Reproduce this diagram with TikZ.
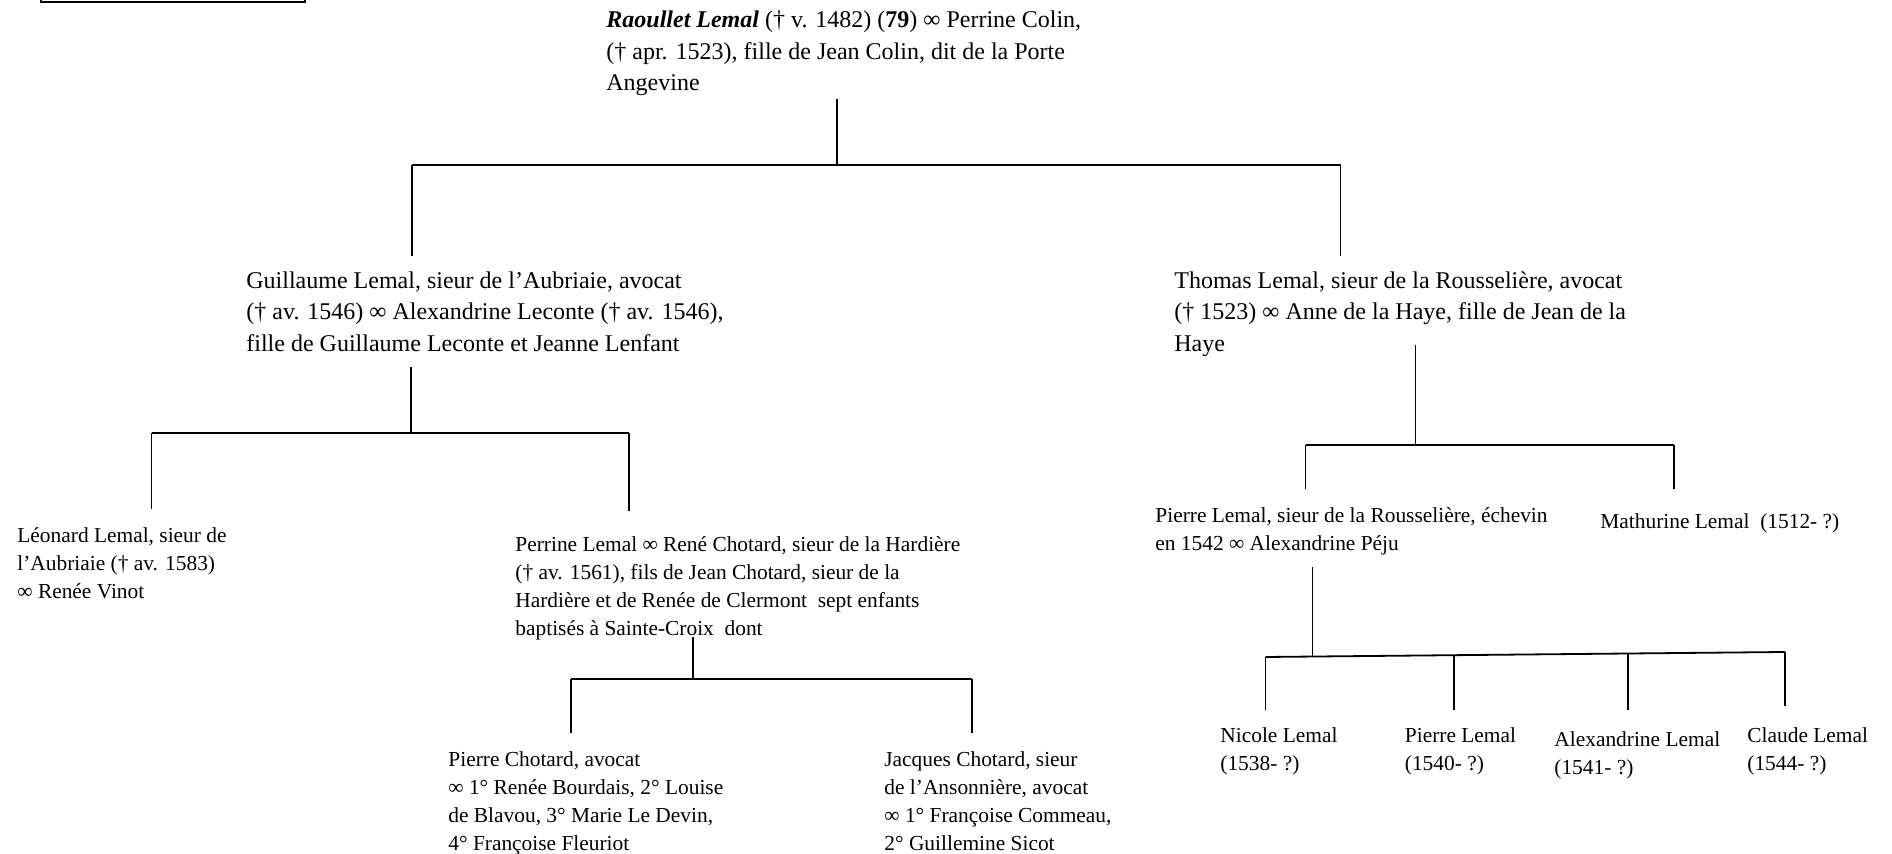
\documentclass[tikz,border=0pt]{standalone}
\usepackage{fontspec}
\setmainfont{Liberation Serif}
\tikzset{
  gen/.style={anchor=north west, inner sep=0pt, align=left, execute at begin node=\strut},
  pers/.style={gen, font=\fontsize{12}{15.75}\selectfont},
  kid/.style={gen, font=\fontsize{10.7}{14}\selectfont},
  ln/.style={line width=0.9pt},
}
\begin{document}
\begin{tikzpicture}[x=0.5pt, y=-0.5pt]
\useasboundingbox (0,0) rectangle (1892,854);
\node[draw, line width=1pt, inner sep=0pt, anchor=south west, minimum width=132pt, minimum height=20pt] (hdr) at (40,3) {};
\node[pers] (root) at (606,10.5) {\textbf{\textit{Raoullet Lemal}} († v. 1482) (\textbf{79}) ∞ Perrine Colin,\\({†} apr. 1523), fille de Jean Colin, dit de la Porte\\Angevine};
\node[pers] (guil) at (246,271) {Guillaume Lemal, sieur de l’Aubriaie, avocat\\({†} av. 1546) ∞ Alexandrine Leconte († av. 1546),\\fille de Guillaume Leconte et Jeanne Lenfant};
\node[pers] (thom) at (1174,271) {Thomas Lemal, sieur de la Rousselière, avocat\\({†} 1523) ∞ Anne de la Haye, fille de Jean de la\\Haye};
\node[kid] (leon) at (17,526.9) {Léonard Lemal, sieur de\\l’Aubriaie († av. 1583)\\∞ Renée Vinot};
\node[kid] (perr) at (515,535.9) {Perrine Lemal ∞ René Chotard, sieur de la Hardière\\({†} av. 1561), fils de Jean Chotard, sieur de la\\Hardière et de Renée de Clermont~ sept enfants\\baptisés à Sainte-Croix~ dont};
\node[kid] (pcho) at (448,750.9) {Pierre Chotard, avocat\\∞ 1° Renée Bourdais, 2° Louise\\de Blavou, 3° Marie Le Devin,\\4° Françoise Fleuriot};
\node[kid] (jcho) at (884,750.9) {Jacques Chotard, sieur\\de l’Ansonnière, avocat\\∞ 1° Françoise Commeau,\\2° Guillemine Sicot};
\node[kid] (plem) at (1155,506.9) {Pierre Lemal, sieur de la Rousselière, échevin\\en 1542 ∞ Alexandrine Péju};
\node[kid] (math) at (1600,508.9) {Mathurine Lemal~ (1512- ?)};
\node[kid] (nic) at (1220,726.9) {Nicole Lemal\\(1538- ?)};
\node[kid] (pie) at (1404.5,726.9) {Pierre Lemal\\(1540- ?)};
\node[kid] (alex) at (1554,730.9) {Alexandrine Lemal\\(1541- ?)};
\node[kid] (clau) at (1747,726.9) {Claude Lemal\\(1544- ?)};
\coordinate (rb) at (837,165);
\coordinate (rl) at (412,165);
\coordinate (rr) at (1340.5,165);
\draw[ln] ([yshift=0.75pt]root.south -| rb) -- (rb);
\draw[ln] (rl) -- (rr);
\draw[ln] (rl) -- ([yshift=7.45pt]rl |- guil.north);
\draw[ln] (rr) -- ([yshift=7.45pt]rr |- thom.north);
\coordinate (gb) at (411,433);
\coordinate (gl) at (151.5,433);
\coordinate (gr) at (629,433);
\draw[ln] ([yshift=-3.25pt]guil.south -| gb) -- (gb);
\draw[ln] (gl) -- (gr);
\draw[ln] (gl) -- ([yshift=8.95pt]gl |- leon.north);
\draw[ln] (gr) -- ([yshift=12.45pt]gr |- perr.north);
\coordinate (pb) at (693,679);
\coordinate (pl) at (571,679);
\coordinate (pr) at (972,679);
\draw[ln] ([yshift=3.25pt]perr.south -| pb) -- (pb);
\draw[ln] (pl) -- (pr);
\draw[ln] (pl) -- ([yshift=8.95pt]pl |- pcho.north);
\draw[ln] (pr) -- ([yshift=8.95pt]pr |- jcho.north);
\coordinate (tb) at (1415.5,445);
\coordinate (tl) at (1305.5,445);
\coordinate (tr) at (1674,445);
\draw[ln] ([yshift=8.1pt]thom.south -| tb) -- (tb);
\draw[ln] (tl) -- (tr);
\draw[ln] (tl) -- ([yshift=8.95pt]tl |- plem.north);
\draw[ln] (tr) -- ([yshift=9.95pt]tr |- math.north);
\coordinate (nb) at (1312.5,656.5);
\coordinate (nl) at (1265.5,657);
\coordinate (n2) at (1454,655.2);
\coordinate (n3) at (1628,653.5);
\coordinate (nr) at (1785,652);
\draw[ln] ([yshift=-3.95pt]plem.south -| nb) -- (nb);
\draw[ln] (nl) -- (nr);
\draw[ln] (nl) -- ([yshift=8.45pt]nl |- nic.north);
\draw[ln] (n2) -- ([yshift=8.45pt]n2 |- pie.north);
\draw[ln] (n3) -- ([yshift=10.45pt]n3 |- alex.north);
\draw[ln] (nr) -- ([yshift=10.45pt]nr |- clau.north);
\end{tikzpicture}
\end{document}
